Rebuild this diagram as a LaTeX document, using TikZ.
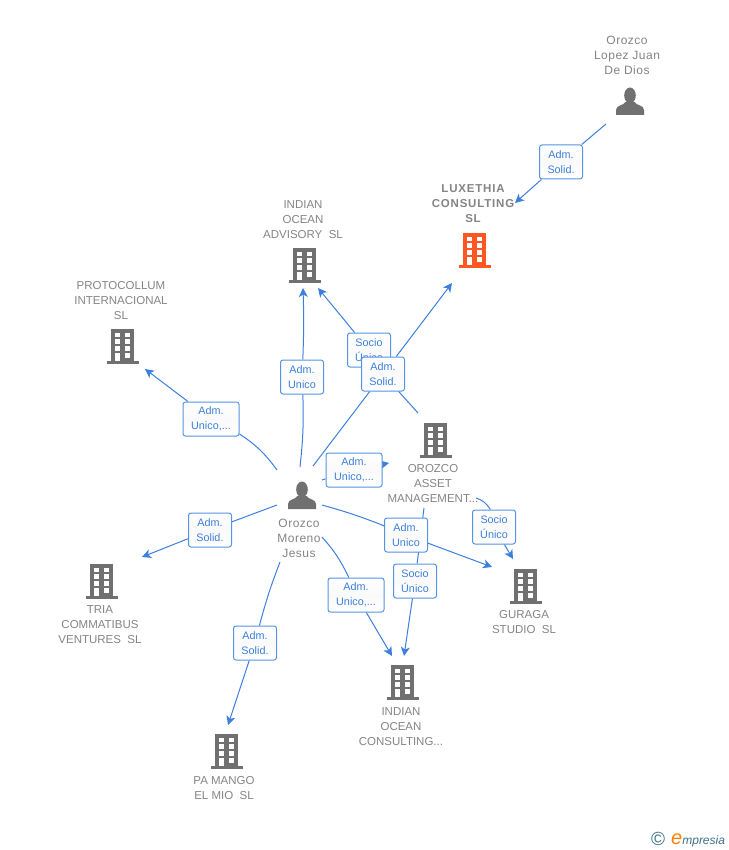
\documentclass[tikz,border=0pt]{standalone}
\usepackage{fontspec}
\setmainfont{Liberation Sans}
\newfontfamily\firmbold[LetterSpace=7,BoldFont={Liberation Sans Bold}]{Liberation Sans}
\newfontfamily\personfont[LetterSpace=4]{Liberation Sans}
\usepackage{xcolor}
\usetikzlibrary{arrows.meta,backgrounds}
\definecolor{linkblue}{RGB}{60, 127, 220}
\definecolor{boxblue}{RGB}{84, 148, 230}
\definecolor{namegray}{RGB}{132, 132, 132}
\definecolor{icongray}{RGB}{112, 112, 112}
\definecolor{firmorange}{RGB}{255, 87, 34}
\definecolor{logoteal}{RGB}{62, 112, 135}
\tikzset{
  rolebox/.style={draw=boxblue, line width=1pt, rounded corners=2.5pt, top color=white, bottom color=white, middle color=black!2,
    minimum width=43pt, minimum height=34pt, inner sep=0pt, align=center, text=linkblue, font=\fontsize{10.8}{15}\selectfont},
  namelabel/.style={text=namegray, align=center, inner sep=0pt, font=\fontsize{11.5}{15}\selectfont},
  personlabel/.style={namelabel, font=\fontsize{12}{15}\personfont},
  link/.style={linkblue, line width=1pt},
  linkarrow/.style={link, -{Stealth[length=9pt,width=9pt,inset=2.5pt]}},
  buildingicon/.pic={
    \fill (-12,-17) rectangle (11,16);
    \fill (-16,15) rectangle (16,17.5);
    \foreach \r in {0,1,2,3}
      \fill[white] (1.8,-13.4+\r*6.8) rectangle (7,-8.6+\r*6.8);
    \foreach \r in {0,1,2}
      \fill[white] (-8,-13.4+\r*6.8) rectangle (-2.8,-8.6+\r*6.8);
    \fill[white] (-8,7) rectangle (-2.8,15);
  },
  personicon/.pic={
    \fill (0,-6.5) ellipse (5.8 and 8);
    \fill (-14,13) -- (-14,8) .. controls (-14,3) and (-6,3.5) .. (-4.5,0) -- (4.5,0) .. controls (6,3.5) and (14,3) .. (14,8) -- (14,13) -- cycle;
  }
}
\begin{document}
\begin{tikzpicture}[x=1pt,y=-1pt]
\useasboundingbox (0,0) rectangle (728,850);

% people
\pic[icongray] at (630,102) {personicon};
\node[personlabel] (lopez) at (627,55) {Orozco\\Lopez Juan\\De Dios};
\pic[icongray] at (302,496) {personicon};
\node[personlabel] (moreno) at (299,538) {Orozco\\Moreno\\Jesus};

% firms
\pic[firmorange] at (475,250) {buildingicon};
\node[namelabel, font=\fontsize{11.5}{15}\firmbold\bfseries] (luxethia) at (473,204) {LUXETHIA\\CONSULTING\\SL};
\pic[icongray] at (305,265) {buildingicon};
\node[namelabel] (advisory) at (303,220) {INDIAN\\OCEAN\\ADVISORY\ \ SL};
\pic[icongray] at (123,346) {buildingicon};
\node[namelabel] (protocollum) at (121,301) {PROTOCOLLUM\\INTERNACIONAL\\SL};
\pic[icongray] at (436,440) {buildingicon};
\node[namelabel] (asset) at (433,484) {OROZCO\\ASSET\\MANAGEMENT...};
\pic[icongray] at (102,581) {buildingicon};
\node[namelabel] (tria) at (100,625) {TRIA\\COMMATIBUS\\VENTURES\ \ SL};
\pic[icongray] at (526,586) {buildingicon};
\node[namelabel] (guraga) at (524,622) {GURAGA\\STUDIO\ \ SL};
\pic[icongray] at (403,682) {buildingicon};
\node[namelabel] (consulting) at (401,727) {INDIAN\\OCEAN\\CONSULTING...};
\pic[icongray] at (227,751) {buildingicon};
\node[namelabel] (pamango) at (224,788) {PA MANGO\\EL MIO\ \ SL};

% role boxes
\node[rolebox] (r1) at (561,162) {Adm.\\Solid.};
\node[rolebox] (r2) at (302,377) {Adm.\\Unico};
\node[rolebox] (r3) at (369,350) {Socio\\Único};
\node[rolebox] (r4) at (383,374) {Adm.\\Solid.};
\node[rolebox, minimum width=56pt] (r5) at (211,419) {Adm.\\Unico,...};
\node[rolebox, minimum width=56pt] (r6) at (354,470) {Adm.\\Unico,...};
\node[rolebox] (r7) at (210,530) {Adm.\\Solid.};
\node[rolebox] (r8) at (406,535) {Adm.\\Unico};
\node[rolebox] (r9) at (494,527) {Socio\\Único};
\node[rolebox] (r10) at (415,581) {Socio\\Único};
\node[rolebox, minimum width=56pt] (r11) at (356,595) {Adm.\\Unico,...};
\node[rolebox] (r12) at (255,643) {Adm.\\Solid.};

% free ends
\coordinate (lopezout) at (606,124);
\coordinate (luxethiain) at (515,203);
\coordinate (luxethiain2) at (452,283);
\coordinate (advisoryin) at (303,288);
\coordinate (advisoryin2) at (318,288);
\coordinate (protoin) at (145,369);
\coordinate (assetin) at (389,463);
\coordinate (triain) at (142,557);
\coordinate (pamangoin) at (228,725);
\coordinate (consultin) at (392,656);
\coordinate (consultin2) at (404,656);
\coordinate (guragain) at (492,567);
\coordinate (guragain2) at (513,559);
\coordinate (morenoa) at (300,467);
\coordinate (morenob) at (313,466);
\coordinate (morenoc) at (277,470);
\coordinate (morenod) at (322,480);
\coordinate (morenoe) at (277,505);
\coordinate (morenof) at (322,505);
\coordinate (morenog) at (322,537);
\coordinate (morenoh) at (280,562);
\coordinate (assettop) at (418,413);
\coordinate (assetlow) at (424,508);
\coordinate (assetright) at (476,498);

\begin{scope}[on background layer]
\draw[link] (lopezout) -- (r1);
\draw[linkarrow] (r1) -- (luxethiain);
\draw[link] (morenoa) to[bend right=4] (r2);
\draw[linkarrow] (r2) to[bend right=2] (advisoryin);
\draw[link] (morenob) -- (r4);
\draw[linkarrow] (r4) -- (luxethiain2);
\draw[link] (assettop) -- (r4);
\draw[linkarrow] (r3) -- (advisoryin2);
\draw[link] (morenoc) to[bend right=10] (r5);
\draw[linkarrow] (r5) -- (protoin);
\draw[link] (morenod) -- (r6);
\draw[linkarrow] (r6) -- (assetin);
\draw[link] (morenoe) -- (r7);
\draw[linkarrow] (r7) -- (triain);
\draw[link] (morenof) to[bend left=3] (r8);
\draw[linkarrow] (r8) -- (guragain);
\draw[link] (morenog) to[bend left=8] (r11);
\draw[linkarrow] (r11) -- (consultin);
\draw[link] (morenoh) to[bend right=3] (r12);
\draw[linkarrow] (r12) -- (pamangoin);
\draw[link] (assetlow) -- (r10);
\draw[linkarrow] (r10) -- (consultin2);
\draw[link] (assetright) to[bend left=20] (r9);
\draw[linkarrow] (r9) -- (guragain2);
\end{scope}

% logo
\node[text=logoteal, inner sep=0pt, font=\fontsize{19}{19}\selectfont] (copyr) at (658,839) {©};
\node[text=logoteal, anchor=west, inner sep=0pt, font=\fontsize{12}{15}\selectfont\itshape] (logo) at (671,840) {{\fontsize{20}{15}\selectfont\color{orange}e}mpresia};
\end{tikzpicture}
\end{document}
